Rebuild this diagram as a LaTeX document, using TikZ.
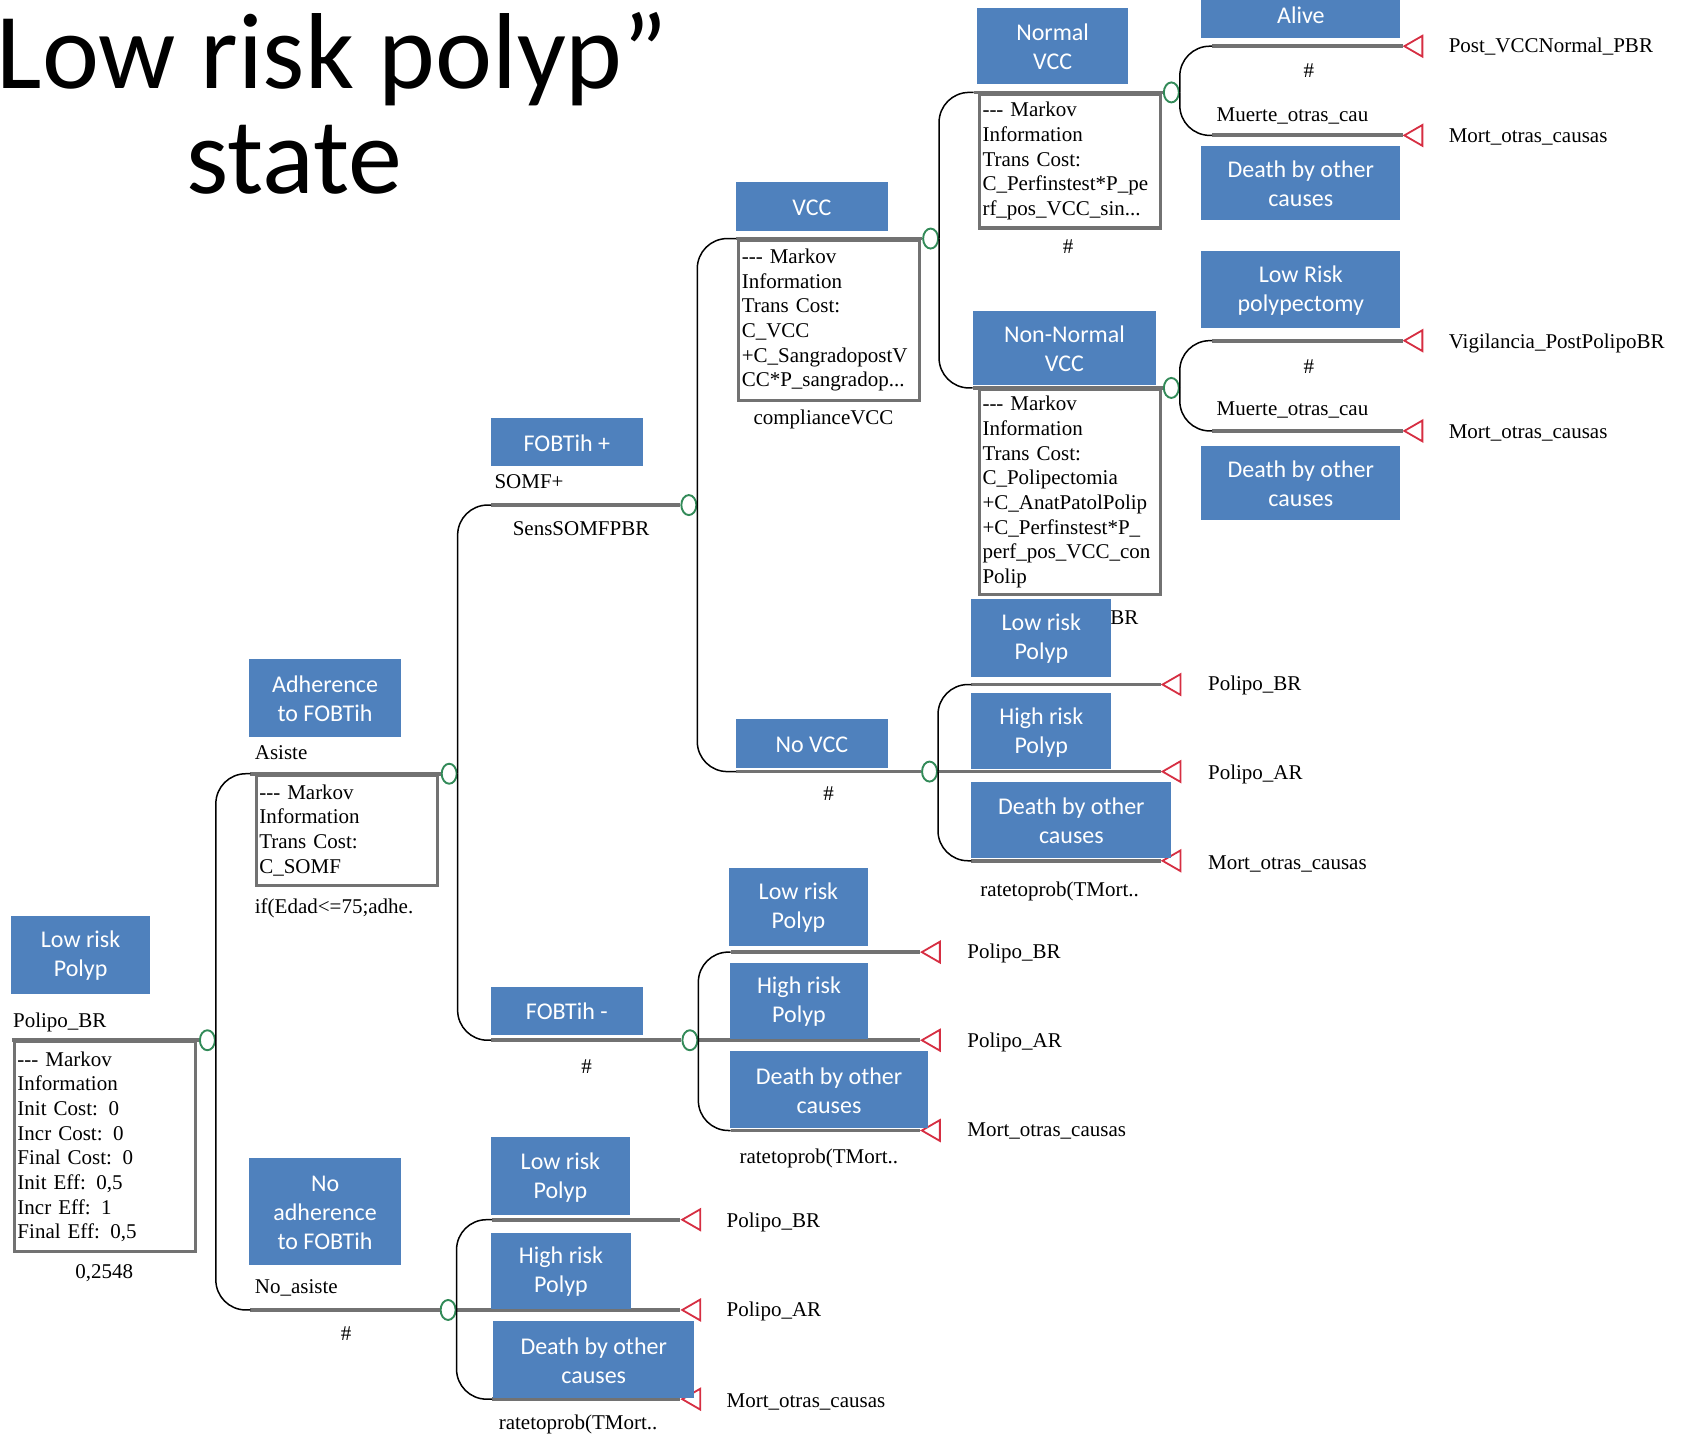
\documentclass[tikz,border=0pt]{standalone}
\usepackage{fontspec}
\setmainfont{Liberation Serif}
\newfontfamily\boxfont{Carlito}
\usepackage{tikz}
\usetikzlibrary{shapes.geometric}
\usetikzlibrary{fit}

\definecolor{boxblue}{RGB}{79,129,189}
\definecolor{linegray}{RGB}{114,114,114}
\definecolor{nodegreen}{RGB}{50,138,88}
\definecolor{termred}{RGB}{214,46,66}

\begin{document}
\begin{tikzpicture}[x=1.0746pt,y=-1.0746pt,
        bluebox/.style={fill=boxblue,inner sep=0},
        boxtext/.style={text=white,align=center,yshift=-1pt,
          font=\boxfont\fontsize{24}{29}\selectfont},
        headline/.style={inner sep=0,font=\boxfont\fontsize{108}{105}\selectfont},
        chance/.style={ellipse,draw=nodegreen,line width=1.9pt,fill=white,
          minimum width=15pt,minimum height=20pt,inner sep=0},
        term/.style={regular polygon,regular polygon sides=3,shape border rotate=90,
          draw=termred,line width=1.8pt,fill=white,minimum size=24pt,inner sep=0},
        branch/.style={draw=linegray,line width=3.8pt},
        conn/.style={draw=black,line width=1.5pt,rounded corners=30pt},
        txt/.style={inner sep=0,font=\fontsize{21}{24.7}\selectfont},
        markov/.style={txt,draw=linegray,line width=3.2pt,fill=white,anchor=north west,
          align=left,text width=175pt,inner sep=3pt}]
  \useasboundingbox (0,0) rectangle (1568,1340);

  % title
  \node[headline,anchor=base west] (h1) at (-3,82) {Low risk polyp”};
  \node[headline,anchor=base] (h2) at (274,180) {state};

  % chance nodes
  \node[chance] (c0) at (193,968) {};
  \node[chance] (c1) at (418,720) {};
  \node[chance] (c2) at (417,1219) {};
  \node[chance] (c3) at (641,470) {};
  \node[chance] (c4) at (642,968) {};
  \node[chance] (c5) at (866,222) {};
  \node[chance] (c6) at (865,718) {};
  \node[chance] (c7) at (1090,86) {};
  \node[chance] (c8) at (1090,361) {};

  % terminal nodes
  \node[term] (t1) at (1318,43) {};
  \node[term] (t2) at (1318,126) {};
  \node[term] (t3) at (1318,317) {};
  \node[term] (t4) at (1318,401) {};
  \node[term] (t5) at (1093,637) {};
  \node[term] (t6) at (1093,718) {};
  \node[term] (t7) at (1093,801) {};
  \node[term] (t8) at (869,886) {};
  \node[term] (t9) at (869,968) {};
  \node[term] (t10) at (869,1052) {};
  \node[term] (t11) at (646,1135) {};
  \node[term] (t12) at (646,1219) {};
  \node[term] (t13) at (646,1302) {};

  % branch starts
  \coordinate (s0) at (11,968);
  \coordinate (s1) at (233,720);
  \coordinate (s2) at (233,1219);
  \coordinate (s3) at (457,470);
  \coordinate (s4) at (457,968);
  \coordinate (s5) at (685,222);
  \coordinate (s6) at (685,718);
  \coordinate (s7) at (906,86);
  \coordinate (s8) at (905,361);
  \coordinate (a1) at (1128,43);
  \coordinate (a2) at (1128,126);
  \coordinate (a3) at (1128,317);
  \coordinate (a4) at (1128,401);
  \coordinate (a5) at (904,637);
  \coordinate (a7) at (904,801);
  \coordinate (a8) at (680,886);
  \coordinate (a10) at (680,1052);
  \coordinate (a11) at (458,1135);
  \coordinate (a13) at (458,1302);

  % markov boxes
  \node[markov,minimum height=210pt] (m0) at (12,968) {-\kern0pt-\kern0pt- Markov\\Information\\Init Cost: 0\\Incr Cost: 0\\Final Cost: 0\\Init Eff: 0,5\\Incr Eff: 1\\Final Eff: 0,5};
  \node[markov,minimum height=110pt] (m1) at (237,720) {-\kern0pt-\kern0pt- Markov\\Information\\Trans Cost:\\C\_SOMF};
  \node[markov,minimum height=160pt] (m2) at (686,222) {-\kern0pt-\kern0pt- Markov\\Information\\Trans Cost:\\C\_VCC\\+C\_SangradopostV\\CC*P\_sangradop...};
  \node[markov,minimum height=134pt] (m3) at (910,86) {-\kern0pt-\kern0pt- Markov\\Information\\Trans Cost:\\C\_Perfinstest*P\_pe\\rf\_pos\_VCC\_sin...};
  \node[markov,minimum height=205pt] (m4) at (910,361) {-\kern0pt-\kern0pt- Markov\\Information\\Trans Cost:\\C\_Polipectomia\\+C\_AnatPatolPolip\\+C\_Perfinstest*P\_\\perf\_pos\_VCC\_con\\Polip};

  % branches
  \draw[branch] (s0) -- (c0);
  \draw[branch] (s1) -- (c1);
  \draw[branch] (s2) -- (c2);
  \draw[branch] (s3) -- (c3);
  \draw[branch] (s4) -- (c4);
  \draw[branch] (s5) -- (c5);
  \draw[branch] (s6) -- (c6);
  \draw[branch] (s7) -- (c7);
  \draw[branch] (s8) -- (c8);
  \draw[branch] (a1) -- (t1);
  \draw[branch] (a2) -- (t2);
  \draw[branch] (a3) -- (t3);
  \draw[branch] (a4) -- (t4);
  \draw[branch] (a5) -- (t5);
  \draw[branch] (c6.east) -- (t6);
  \draw[branch] (a7) -- (t7);
  \draw[branch] (a8) -- (t8);
  \draw[branch] (c4.east) -- (t9);
  \draw[branch] (a10) -- (t10);
  \draw[branch] (a11) -- (t11);
  \draw[branch] (c2.east) -- (t12);
  \draw[branch] (a13) -- (t13);

  % connectors
  \draw[conn] (c0.east) |- (s1);
  \draw[conn] (c0.east) |- (s2);
  \draw[conn] (c1.east) |- (s3);
  \draw[conn] (c1.east) |- (s4);
  \draw[conn] (c2.east) |- (a11);
  \draw[conn] (c2.east) |- (a13);
  \draw[conn] (c3.east) |- (s5);
  \draw[conn] (c3.east) |- (s6);
  \draw[conn] (c4.east) |- (a8);
  \draw[conn] (c4.east) |- (a10);
  \draw[conn] (c5.east) |- (s7);
  \draw[conn] (c5.east) |- (s8);
  \draw[conn] (c6.east) |- (a5);
  \draw[conn] (c6.east) |- (a7);
  \draw[conn] (c7.east) |- (a1);
  \draw[conn] (c7.east) |- (a2);
  \draw[conn] (c8.east) |- (a3);
  \draw[conn] (c8.east) |- (a4);

  % branch texts
  \node[txt,anchor=base west] (l0) at (12,956) {Polipo\_BR};
  \node[txt,anchor=base] (p0) at (97,1190) {0,2548};
  \node[txt,anchor=base west] (l1) at (237,707) {Asiste};
  \node[txt,anchor=base west] (p1) at (237,850) {if(Edad<=75;adhe.};
  \node[txt,anchor=base west] (l2) at (237,1204) {No\_asiste};
  \node[txt,anchor=base] (p2) at (322,1247) {\#};
  \node[txt,anchor=base west] (l3) at (460,455) {SOMF+};
  \node[txt,anchor=base west] (p3) at (477,498) {SensSOMFPBR};
  \node[txt,anchor=base] (p4) at (546,999) {\#};
  \node[txt,anchor=base west] (p5) at (701,395) {complianceVCC};
  \node[txt,anchor=base] (p6) at (771,745) {\#};
  \node[txt,anchor=base] (p7) at (994,236) {\#};
  \node[txt,anchor=base west] (p8) at (1033,581) {BR};
  \node[txt,anchor=base] (p9) at (1218,72) {\#};
  \node[txt,anchor=base west] (l10) at (1132,113) {Muerte\_otras\_cau};
  \node[txt,anchor=base] (p11) at (1218,348) {\#};
  \node[txt,anchor=base west] (l12) at (1132,387) {Muerte\_otras\_cau};
  \node[txt,anchor=base west] (p15) at (912,834) {ratetoprob(TMort..};
  \node[txt,anchor=base west] (p18) at (688,1083) {ratetoprob(TMort..};
  \node[txt,anchor=base west] (p21) at (464,1330) {ratetoprob(TMort..};

  % terminal texts
  \node[txt,anchor=base west] (r1) at (1348,49) {Post\_VCCNormal\_PBR};
  \node[txt,anchor=base west] (r2) at (1348,133) {Mort\_otras\_causas};
  \node[txt,anchor=base west] (r3) at (1348,324) {Vigilancia\_PostPolipoBR};
  \node[txt,anchor=base west] (r4) at (1348,408) {Mort\_otras\_causas};
  \node[txt,anchor=base west] (r5) at (1124,643) {Polipo\_BR};
  \node[txt,anchor=base west] (r6) at (1124,725) {Polipo\_AR};
  \node[txt,anchor=base west] (r7) at (1124,809) {Mort\_otras\_causas};
  \node[txt,anchor=base west] (r8) at (900,892) {Polipo\_BR};
  \node[txt,anchor=base west] (r9) at (900,975) {Polipo\_AR};
  \node[txt,anchor=base west] (r10) at (900,1058) {Mort\_otras\_causas};
  \node[txt,anchor=base west] (r11) at (676,1142) {Polipo\_BR};
  \node[txt,anchor=base west] (r12) at (676,1225) {Polipo\_AR};
  \node[txt,anchor=base west] (r13) at (676,1310) {Mort\_otras\_causas};

  % blue boxes
  \node[bluebox,fit={(10,852) (140,925)},label={[boxtext]center:Low risk\\Polyp}] (b0) {};
  \node[bluebox,fit={(232,613) (373,686)},label={[boxtext]center:Adherence\\to FOBTih}] (b1) {};
  \node[bluebox,fit={(232,1078) (373,1177)},label={[boxtext]center:No\\adherence\\to FOBTih}] (b2) {};
  \node[bluebox,fit={(457,389) (598,434)},label={[boxtext]center:FOBTih +}] (b3) {};
  \node[bluebox,fit={(457,918) (598,963)},label={[boxtext]center:FOBTih -}] (b4) {};
  \node[bluebox,fit={(685,169) (826,215)},label={[boxtext]center:VCC}] (b5) {};
  \node[bluebox,fit={(685,669) (826,715)},label={[boxtext]center:No VCC}] (b6) {};
  \node[bluebox,fit={(909,7) (1050,78)},label={[boxtext]center:Normal\\VCC}] (b7) {};
  \node[bluebox,fit={(905,289) (1076,358)},label={[boxtext]center:Non-Normal\\VCC}] (b8) {};
  \node[bluebox,fit={(1118,-9) (1303,35)},label={[boxtext]center:Alive}] (b9) {};
  \node[bluebox,fit={(1118,136) (1303,205)},label={[boxtext]center:Death by other\\causes}] (b10) {};
  \node[bluebox,fit={(1118,234) (1303,305)},label={[boxtext]center:Low Risk\\polypectomy}] (b11) {};
  \node[bluebox,fit={(1118,415) (1303,484)},label={[boxtext]center:Death by other\\causes}] (b12) {};
  \node[bluebox,fit={(904,557) (1034,630)},label={[boxtext]center:Low risk\\Polyp}] (b13) {};
  \node[bluebox,fit={(904,645) (1034,716)},label={[boxtext]center:High risk\\Polyp}] (b14) {};
  \node[bluebox,fit={(904,728) (1090,798)},label={[boxtext]center:Death by other\\causes}] (b15) {};
  \node[bluebox,fit={(678,808) (808,880)},label={[boxtext]center:Low risk\\Polyp}] (b16) {};
  \node[bluebox,fit={(679,896) (808,967)},label={[boxtext]center:High risk\\Polyp}] (b17) {};
  \node[bluebox,fit={(679,978) (864,1050)},label={[boxtext]center:Death by other\\causes}] (b18) {};
  \node[bluebox,fit={(457,1058) (586,1131)},label={[boxtext]center:Low risk\\Polyp}] (b19) {};
  \node[bluebox,fit={(457,1147) (587,1218)},label={[boxtext]center:High risk\\Polyp}] (b20) {};
  \node[bluebox,fit={(459,1229) (646,1301)},label={[boxtext]center:Death by other\\causes}] (b21) {};
\end{tikzpicture}
\end{document}
